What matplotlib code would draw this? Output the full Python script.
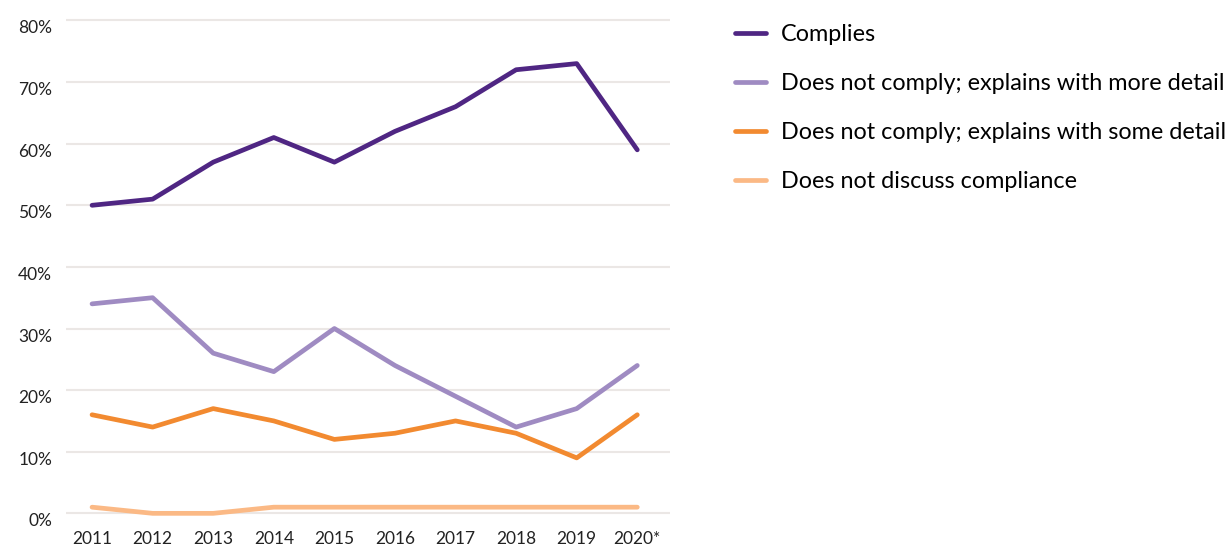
import matplotlib
matplotlib.use('Agg')
import matplotlib.pyplot as plt

plt.rcParams['font.family'] = ['Lato', 'DejaVu Sans']

# Chart data.
years = ['2011', '2012', '2013', '2014', '2015', '2016', '2017', '2018', '2019', '2020*']
complies = [50, 51, 57, 61, 57, 62, 66, 72, 73, 59]
more_detail = [34, 35, 26, 23, 30, 24, 19, 14, 17, 24]
some_detail = [16, 14, 17, 15, 12, 13, 15, 13, 9, 16]
not_discuss = [1, 0, 0, 1, 1, 1, 1, 1, 1, 1]

series_names = ['Complies',
                'Does not comply; explains with more detail',
                'Does not comply; explains with some detail',
                'Does not discuss compliance']
colors = ['#4f2683', '#9f8bc2', '#f28a30', '#fbb985']

fig = plt.figure(figsize=(12.26, 5.45), dpi=100)
ax = fig.add_axes([66 / 1226, 1 - 519.5 / 545, 604 / 1226, 505.2 / 545])

x = list(range(len(years)))
for vals, name, col in zip([complies, more_detail, some_detail, not_discuss], series_names, colors):
    ax.plot(x, vals, color=col, lw=3.4, label=name, solid_capstyle='round', solid_joinstyle='round')

ax.set_xlim(-0.43, 9.54)
ax.set_ylim(-1, 81)
ax.set_yticks(range(0, 81, 10))
ax.set_yticklabels([f'{v}%' for v in range(0, 81, 10)])
ax.set_xticks(x)
ax.set_xticklabels(years)
ax.grid(axis='y', color='#ebe7e5', lw=1.5)
ax.set_axisbelow(True)
for s in ax.spines.values():
    s.set_visible(False)
ax.tick_params(length=0, labelsize=12.5, colors='#222222')
ax.tick_params(axis='y', pad=10)
ax.tick_params(axis='x', pad=8)
# labels sit a little below their gridline, as in the original
for lbl in ax.get_yticklabels():
    lbl.set_va('top')

handles, labels = ax.get_legend_handles_labels()
fig.legend(handles, labels, loc='upper left', bbox_to_anchor=(726 / 1226, 1 - 15 / 545),
           frameon=False, fontsize=16.8, handlelength=1.3, handletextpad=0.65,
           labelspacing=1.2, borderaxespad=0)

fig.savefig('out.png', dpi=100)
